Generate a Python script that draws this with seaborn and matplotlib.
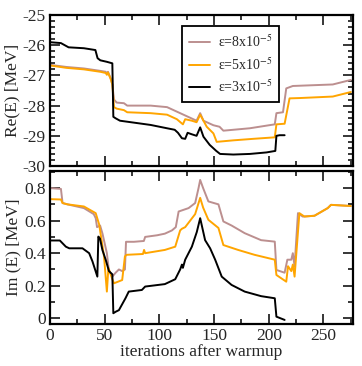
import matplotlib
matplotlib.use("Agg")
import matplotlib.pyplot as plt
import seaborn as sns
from matplotlib.ticker import MultipleLocator, FuncFormatter

sns.set_style("ticks")
plt.rcParams["font.family"] = ["Liberation Serif", "DejaVu Serif"]
plt.rcParams["mathtext.fontset"] = "stix"
plt.rcParams["axes.unicode_minus"] = False

# ── data ───────────────────────────────────────────────────────────────
LABELS = ["ε=8x10$^{-5}$", "ε=5x10$^{-5}$", "ε=3x10$^{-5}$"]
COLORS = ["#bc8f8f", "#ffa500", "black"]

# Re(E), eps = 8e-5
re8_it = [0, 15, 31, 46, 51, 52, 53, 55.5, 57, 58.5, 61, 67.6, 70.6, 92, 107, 113, 122, 131, 134,
          137.3, 140.3, 149.4, 155, 158.5, 167.6, 182.7, 205.5, 207, 213, 216, 222, 258.5, 275]
re8_v = [-26.65, -26.72, -26.77, -26.85, -26.88, -26.95, -26.88, -27.1, -27.3, -27.8, -27.9, -27.92,
         -28.0, -28.0, -28.05, -28.15, -28.3, -28.45, -28.5, -28.25, -28.5, -28.65, -28.7, -28.83,
         -28.8, -28.75, -28.62, -28.25, -28.22, -27.43, -27.35, -27.3, -27.15]
# Re(E), eps = 5e-5
re5_it = [0, 15, 31, 46, 51, 52, 53, 55.5, 57, 58.5, 61, 67.6, 70.6, 92, 107, 116, 121.5, 123.6,
          129.7, 134, 137.3, 143.3, 149.4, 152.4, 167.6, 185.8, 205.5, 207, 214.5, 219, 228, 258.5, 275]
re5_v = [-26.67, -26.75, -26.8, -26.88, -26.92, -26.98, -26.9, -27.12, -27.3, -28.05, -28.1, -28.15,
         -28.22, -28.25, -28.3, -28.45, -28.62, -28.45, -28.5, -28.55, -28.3, -28.7, -28.92, -29.2,
         -29.15, -29.1, -29.05, -28.62, -28.6, -27.76, -27.75, -27.7, -27.55]
# Re(E), eps = 3e-5
re3_it = [0, 10, 17, 31, 41.5, 43.5, 46, 52, 57, 57.9, 60, 64, 70, 80, 92, 107, 114, 117, 120.6,
          123.6, 125.8, 129.7, 134, 137.3, 140.3, 146, 152, 155.5, 167.6, 182.7, 197.9, 206, 207,
          210, 214.5]
re3_v = [-25.9, -25.93, -26.07, -26.1, -26.16, -26.43, -26.5, -26.55, -26.6, -28.37, -28.42, -28.5,
         -28.53, -28.58, -28.64, -28.75, -28.8, -28.9, -29.08, -29.1, -28.9, -28.95, -29.0, -28.72,
         -29.03, -29.3, -29.5, -29.6, -29.62, -29.6, -29.55, -29.5, -29.0, -28.98, -28.98]

# Im(E), eps = 8e-5
im8_it = [0, 10, 11.5, 16, 31, 40, 41.8, 43, 45.8, 48, 52, 53.8, 57, 60, 63, 66, 68.5, 69.5, 76.7,
          85.8, 87, 97.9, 105, 111.5, 115, 117.6, 126.7, 132.7, 135.8, 137.3, 140, 144.8, 154,
          158.5, 166, 178, 193, 205.5, 207, 214.5, 217, 220.6, 222, 223.6, 226.7, 231, 241.8,
          253.9, 256.9, 275]
im8_v = [0.80, 0.795, 0.708, 0.70, 0.677, 0.64, 0.615, 0.56, 0.57, 0.52, 0.40, 0.297, 0.256, 0.28,
         0.30, 0.29, 0.30, 0.47, 0.47, 0.475, 0.50, 0.51, 0.52, 0.54, 0.56, 0.656, 0.677, 0.708,
         0.80, 0.85, 0.80, 0.718, 0.70, 0.595, 0.57, 0.523, 0.48, 0.471, 0.297, 0.28, 0.36, 0.36,
         0.40, 0.32, 0.646, 0.625, 0.63, 0.677, 0.697, 0.69]
# Im(E), eps = 5e-5
im5_it = [0, 10, 11.5, 16, 31, 41.8, 45, 49.4, 52, 53.4, 57, 58.5, 66, 68.5, 70, 85, 86, 87, 105,
          114.5, 119, 120.6, 123.6, 132.7, 137.3, 140, 144.8, 154, 158.5, 172, 187, 205.5, 207, 216,
          217.6, 220.6, 222, 223.6, 228, 232.6, 241.8, 253.9, 256.9, 275]
im5_v = [0.732, 0.73, 0.708, 0.70, 0.687, 0.646, 0.575, 0.38, 0.164, 0.31, 0.24, 0.215, 0.235,
         0.38, 0.39, 0.395, 0.42, 0.40, 0.42, 0.44, 0.54, 0.55, 0.56, 0.64, 0.74, 0.68, 0.605, 0.555,
         0.45, 0.42, 0.39, 0.36, 0.266, 0.225, 0.32, 0.29, 0.33, 0.256, 0.646, 0.625, 0.63, 0.677,
         0.697, 0.69]
# Im(E), eps = 3e-5
im3_it = [0, 9, 14.5, 17.6, 29.7, 35.8, 38.8, 41.2, 43.3, 44.2, 45.7, 47.9, 50.9, 53.9, 57, 57.9,
          60, 63, 69, 72, 84, 87, 105, 114.5, 119, 120.6, 121.5, 123.6, 129.7, 134.2, 137.3, 141.8,
          146.4, 151, 157, 166, 178, 193, 205.5, 207, 214.5]
im3_v = [0.478, 0.478, 0.44, 0.43, 0.43, 0.40, 0.35, 0.30, 0.256, 0.502, 0.49, 0.42, 0.36, 0.29,
         0.27, 0.031, 0.04, 0.05, 0.123, 0.164, 0.174, 0.195, 0.21, 0.24, 0.30, 0.33, 0.31, 0.36,
         0.44, 0.53, 0.615, 0.48, 0.43, 0.36, 0.256, 0.205, 0.164, 0.136, 0.123, 0.01, -0.01]

RE = [(re8_it, re8_v), (re5_it, re5_v), (re3_it, re3_v)]
IM = [(im8_it, im8_v), (im5_it, im5_v), (im3_it, im3_v)]

# ── figure ────────────────────────────────────────────────────────────
fig = plt.figure(figsize=(3.62, 3.66), dpi=100)
ax1 = fig.add_axes([0.1381, 0.5464, 0.837, 0.4126])
ax2 = fig.add_axes([0.1381, 0.1148, 0.837, 0.418])

for (x, y), c, lab in zip(RE, COLORS, LABELS):
    sns.lineplot(x=x, y=y, ax=ax1, color=c, lw=1.4, label=lab, estimator=None, sort=False)
for (x, y), c in zip(IM, COLORS):
    sns.lineplot(x=x, y=y, ax=ax2, color=c, lw=1.4, estimator=None, sort=False, legend=False)

ax1.set_ylim(-30, -25)
ax2.set_ylim(-0.035, 0.905)
for ax in (ax1, ax2):
    ax.set_xlim(0, 277)
    ax.xaxis.set_major_locator(MultipleLocator(50))
    ax.xaxis.set_minor_locator(MultipleLocator(25))
    ax.tick_params(which="both", direction="in", top=True, right=True, width=1.3,
                   labelsize=12.5, pad=3)
    ax.tick_params(which="major", length=7)
    ax.tick_params(which="minor", length=3.5)
    for s in ax.spines.values():
        s.set_linewidth(1.6)
        s.set_color("black")

ax1.yaxis.set_major_locator(MultipleLocator(1))
ax1.yaxis.set_minor_locator(MultipleLocator(0.2))
ax1.tick_params(labelbottom=False)
ax2.yaxis.set_major_locator(MultipleLocator(0.2))
ax2.yaxis.set_minor_locator(MultipleLocator(0.1))
ax2.yaxis.set_major_formatter(FuncFormatter(lambda v, p: f"{v:g}"))

ax1.set_xlabel("")
ax1.set_ylabel("Re(E) [MeV]", fontsize=12.5, labelpad=2)
ax2.set_ylabel("Im (E) [MeV]", fontsize=12.5, labelpad=2)
ax2.set_xlabel("iterations after warmup", fontsize=12.5, labelpad=0)

leg = ax1.legend(loc="upper left", bbox_to_anchor=(0.436, 0.925), fontsize=10, frameon=True,
                 fancybox=False, edgecolor="black", framealpha=1, handlelength=1.5,
                 handletextpad=0.55, labelspacing=0.45, borderpad=0.5, borderaxespad=0)
leg.get_frame().set_linewidth(1.3)

fig.savefig("out.png", dpi=100)
